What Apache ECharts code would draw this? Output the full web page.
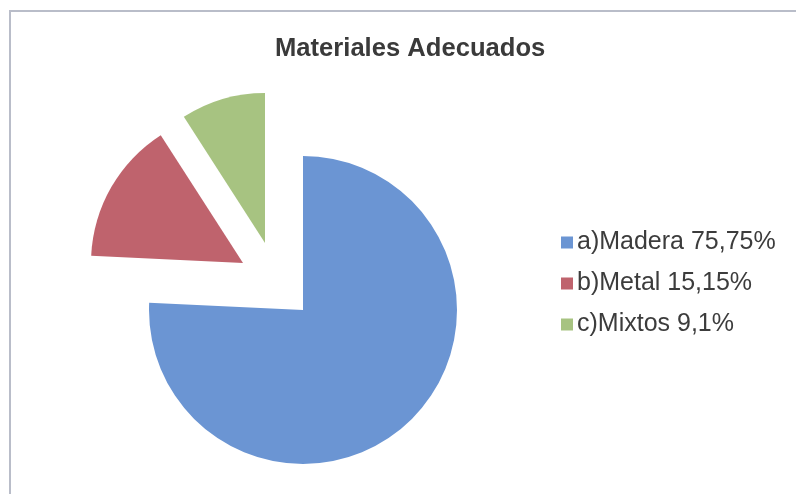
<!DOCTYPE html>
<html>
<head>
<meta charset="utf-8">
<script src="https://cdn.jsdelivr.net/npm/echarts@6/dist/echarts.min.js"></script>
<style>html,body{margin:0;padding:0;background:#fff}#c{width:796px;height:494px}</style>
</head>
<body>
<div id="c"></div>
<script>
const categories = ['a)Madera 75,75%', 'b)Metal 15,15%', 'c)Mixtos 9,1%'];
const values = [75.75, 15.15, 9.1];
const colors = ['#6b95d3', '#bf636d', '#a7c381'];

const chart = echarts.init(document.getElementById('c'), null, {renderer: 'canvas'});

// each slice drawn by its own pie series so each can be exploded individually
const centers = [[303, 310], [243, 263], [265, 243]];
const radii = [154, 152, 150];

const series = categories.map((c, k) => ({
  type: 'pie',
  center: centers[k],
  radius: radii[k],
  startAngle: 90,
  clockwise: true,
  silent: true,
  animation: false,
  label: {show: false},
  labelLine: {show: false},
  emphasis: {disabled: true},
  data: categories.map((name, i) => ({
    name: name,
    value: values[i],
    itemStyle: {color: i === k ? colors[i] : 'rgba(0,0,0,0)', borderWidth: 0}
  }))
}));

chart.setOption({
  backgroundColor: '#ffffff',
  animation: false,
  title: {
    text: 'Materiales Adecuados',
    left: 270,
    top: 31,
    textStyle: {fontFamily: 'Liberation Sans', fontWeight: 'bold', fontSize: 25.6, color: '#3a3a3a'}
  },
  legend: {
    orient: 'vertical',
    left: 556,
    top: 225,
    itemWidth: 12,
    itemHeight: 12,
    itemGap: 16,
    selectedMode: false,
    icon: 'rect',
    textStyle: {fontFamily: 'Liberation Sans', fontSize: 25, color: '#3c3c3c', padding: [0, 0, 0, -1]},
    data: categories.map((name, i) => ({name: name, itemStyle: {color: colors[i]}}))
  },
  graphic: [{
    type: 'rect',
    shape: {x: 10, y: 11, width: 820, height: 520},
    style: {fill: 'none', stroke: '#b9bdc9', lineWidth: 2},
    silent: true
  }],
  series: series
});
</script>
</body>
</html>
